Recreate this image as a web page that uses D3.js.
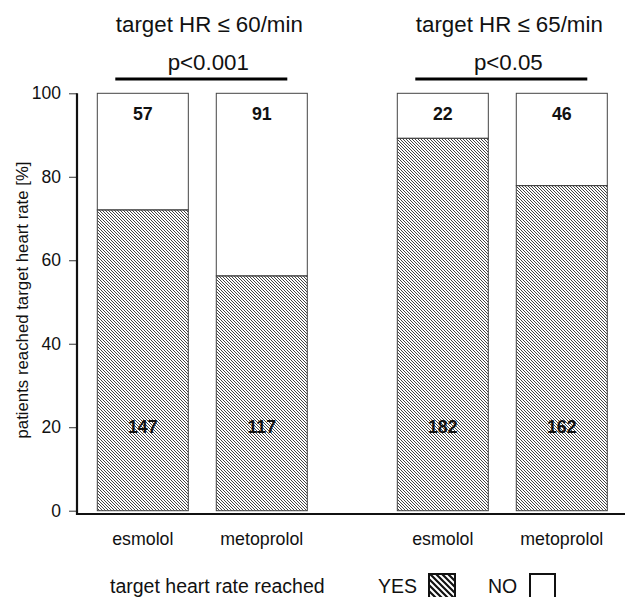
<!DOCTYPE html>
<html>
<head>
<meta charset="utf-8">
<script src="https://cdn.jsdelivr.net/npm/d3@7/dist/d3.min.js"></script>
<style>
  body { margin: 0; background: #fff; }
  svg { display: block; font-family: "Liberation Sans", Arial, sans-serif; }
</style>
</head>
<body>
<div id="chart"></div>
<script>
  const groups = ['target HR ≤ 60/min', 'target HR ≤ 65/min'];
  const pValues = ['p<0.001', 'p<0.05'];
  const drugs = ['esmolol', 'metoprolol'];
  const countsYes = [[147, 117], [182, 162]];
  const countsNo = [[57, 91], [22, 46]];
  const yTicks = [0, 20, 40, 60, 80, 100];

  const width = 625;
  const height = 597;

  const svg = d3.select('#chart')
    .append('svg')
    .attr('width', width)
    .attr('height', height);

  // hatch patterns
  const defs = svg.append('defs');
  defs.append('pattern')
    .attr('id', 'hatch')
    .attr('patternUnits', 'userSpaceOnUse')
    .attr('width', 3)
    .attr('height', 3)
    .append('path')
    .attr('d', 'M-1,-1 L4,4 M-1,2 L1,4 M2,-1 L4,1')
    .attr('stroke', '#444')
    .attr('stroke-width', 1);
  defs.append('pattern')
    .attr('id', 'hatchLegend')
    .attr('patternUnits', 'userSpaceOnUse')
    .attr('width', 6)
    .attr('height', 6)
    .append('path')
    .attr('d', 'M-1.5,-1.5 L7.5,7.5 M-1.5,4.5 L1.5,7.5 M4.5,-1.5 L7.5,1.5')
    .attr('stroke', '#111')
    .attr('stroke-width', 2.2);

  const y = d3.scaleLinear().domain([0, 100]).range([510.7, 93.3]);
  const xGroup = d3.scaleBand().domain(d3.range(groups.length))
    .range([97.3, 607.3]).paddingInner(0.3).paddingOuter(0);
  const xDrug = d3.scaleBand().domain(drugs)
    .range([0, xGroup.bandwidth()]).paddingInner(0.235).paddingOuter(0);

  // y axis
  const yAxis = d3.axisLeft(y).tickValues(yTicks).tickSize(8).tickPadding(8);
  const gy = svg.append('g')
    .attr('transform', 'translate(77,0)')
    .call(yAxis);
  gy.select('.domain').remove();
  gy.selectAll('.tick line').attr('stroke', '#333');
  gy.selectAll('.tick text')
    .attr('font-size', 17.5)
    .attr('fill', '#111')
    .attr('font-family', '"Liberation Sans", Arial, sans-serif');

  svg.append('line')
    .attr('x1', 77).attr('x2', 77)
    .attr('y1', y(100)).attr('y2', 515)
    .attr('stroke', '#111').attr('stroke-width', 2.2);
  svg.append('line')
    .attr('x1', 76).attr('x2', width)
    .attr('y1', 514).attr('y2', 514)
    .attr('stroke', '#111').attr('stroke-width', 2.2);

  svg.append('text')
    .attr('transform', 'translate(28,300) rotate(-90)')
    .attr('text-anchor', 'middle')
    .attr('font-size', 16.8)
    .attr('fill', '#111')
    .text('patients reached target heart rate [%]');

  groups.forEach(function (g, gi) {
    const gx = xGroup(gi);
    const cx = gx + xGroup.bandwidth() / 2;

    svg.append('text')
      .attr('x', cx + 7).attr('y', 32)
      .attr('text-anchor', 'middle')
      .attr('font-size', 22.3)
      .attr('fill', '#111')
      .text(g);
    svg.append('text')
      .attr('x', cx + 6).attr('y', 70)
      .attr('text-anchor', 'middle')
      .attr('font-size', 22.3)
      .attr('fill', '#111')
      .text(pValues[gi]);
    svg.append('line')
      .attr('x1', gx + 18).attr('x2', gx + 190)
      .attr('y1', 79).attr('y2', 79)
      .attr('stroke', '#000').attr('stroke-width', 3.2);

    drugs.forEach(function (d, di) {
      const yes = countsYes[gi][di];
      const no = countsNo[gi][di];
      const pct = yes / (yes + no) * 100;
      const bx = gx + xDrug(d);
      const bw = xDrug.bandwidth();

      svg.append('rect')
        .attr('x', bx).attr('y', y(100))
        .attr('width', bw).attr('height', y(pct) - y(100))
        .attr('fill', '#fff')
        .attr('stroke', '#444').attr('stroke-width', 1);
      svg.append('rect')
        .attr('x', bx).attr('y', y(pct))
        .attr('width', bw).attr('height', y(0) - y(pct))
        .attr('fill', 'url(#hatch)')
        .attr('stroke', '#444').attr('stroke-width', 1);

      svg.append('text')
        .attr('x', bx + bw / 2).attr('y', y(95))
        .attr('dy', '0.35em')
        .attr('text-anchor', 'middle')
        .attr('font-size', 17.8).attr('font-weight', 'bold')
        .attr('fill', '#111')
        .text(no);
      svg.append('text')
        .attr('x', bx + bw / 2).attr('y', y(20))
        .attr('dy', '0.35em')
        .attr('text-anchor', 'middle')
        .attr('font-size', 17.8).attr('font-weight', 'bold')
        .attr('fill', '#111')
        .text(yes);

      svg.append('text')
        .attr('x', bx + bw / 2).attr('y', 545)
        .attr('text-anchor', 'middle')
        .attr('font-size', 17.8)
        .attr('fill', '#111')
        .text(d);
    });
  });

  // legend
  svg.append('text')
    .attr('x', 110).attr('y', 593)
    .attr('font-size', 19.5)
    .attr('fill', '#111')
    .text('target heart rate reached');
  svg.append('text')
    .attr('x', 378).attr('y', 593)
    .attr('font-size', 19.5)
    .attr('fill', '#111')
    .text('YES');
  svg.append('rect')
    .attr('x', 429).attr('y', 574)
    .attr('width', 26).attr('height', 24)
    .attr('fill', 'url(#hatchLegend)')
    .attr('stroke', '#111').attr('stroke-width', 2);
  svg.append('text')
    .attr('x', 488).attr('y', 593)
    .attr('font-size', 19.5)
    .attr('fill', '#111')
    .text('NO');
  svg.append('rect')
    .attr('x', 530).attr('y', 574)
    .attr('width', 25).attr('height', 24)
    .attr('fill', '#fff')
    .attr('stroke', '#111').attr('stroke-width', 2);
</script>
</body>
</html>
